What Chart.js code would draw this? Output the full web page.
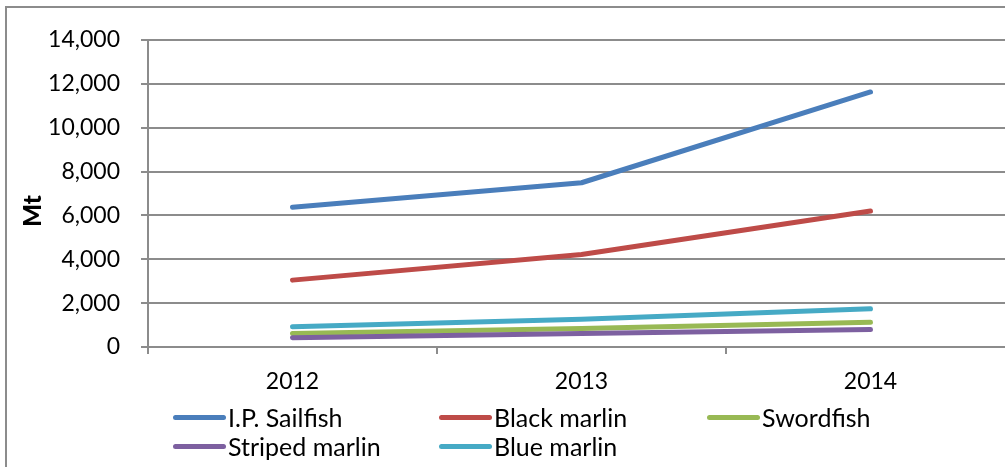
<!DOCTYPE html>
<html lang="en">

<head>
    <meta charset="UTF-8">
    <title>Billfish catch</title>
    <script src="https://cdn.jsdelivr.net/npm/chart.js"></script>
    <style>
        body { margin: 0; overflow: hidden; background: #fff; font-family: Lato, sans-serif; }
        #frame { position: absolute; left: 5px; top: 6px; width: 1100px; height: 600px; border-left: 2px solid #8c8c8c; border-top: 2px solid #8c8c8c; }
        #wrap { position: absolute; left: 0; top: 0; width: 1030px; height: 467px; }
        #legend { position: absolute; left: 173px; top: 403px; display: grid; grid-template-columns: 266px 268px 200px; row-gap: 1px; }
        .item { display: flex; align-items: center; height: 28px; font-size: 25px; color: #000; white-space: nowrap; }
        .swatch { width: 53px; height: 5px; border-radius: 3px; margin-right: 2px; }
    </style>
</head>

<body>
    <div id="frame"></div>
    <div id="wrap"><canvas id="fishChart"></canvas></div>
    <div id="legend"></div>

    <script>
        // values (Mt)
        const years = ['2012', '2013', '2014'];
        const sailfish = [6370, 7490, 11630];
        const blackMarlin = [3050, 4220, 6200];
        const swordfish = [610, 840, 1130];
        const stripedMarlin = [420, 610, 800];
        const blueMarlin = [920, 1260, 1740];

        const seriesNames = ['I.P. Sailfish', 'Black marlin', 'Swordfish', 'Striped marlin', 'Blue marlin'];
        const seriesColors = ['#4a7ebb', '#be4b48', '#98b954', '#7d60a0', '#46aac5'];
        const seriesData = [sailfish, blackMarlin, swordfish, stripedMarlin, blueMarlin];

        const gridColor = '#8c8c8c';
        const font = { family: 'Lato', size: 23 };

        // draw lower series first so the order on top matches the picture
        const drawOrder = [4, 3, 2, 1, 0];

        const datasets = seriesNames.map((name, i) => ({
            label: name,
            data: seriesData[i],
            borderColor: seriesColors[i],
            backgroundColor: seriesColors[i],
            borderWidth: 5,
            borderCapStyle: 'round',
            borderJoinStyle: 'round',
            pointRadius: 0,
            tension: 0,
            order: drawOrder[i]
        }));

        // axis title sits a bit below the middle of the plot, as in the original
        const axisTitle = {
            id: 'axisTitle',
            afterDraw(chart) {
                const ctx = chart.ctx;
                ctx.save();
                ctx.translate(33, 211);
                ctx.rotate(-Math.PI / 2);
                ctx.font = '900 24px Lato';
                ctx.fillStyle = '#000';
                ctx.textAlign = 'center';
                ctx.textBaseline = 'middle';
                ctx.fillText('Mt', 0, 0);
                ctx.restore();
            }
        };

        const ctx = document.getElementById('fishChart').getContext('2d');
        const chart = new Chart(ctx, {
            type: 'line',
            data: { labels: years, datasets: datasets },
            options: {
                responsive: true,
                maintainAspectRatio: false,
                animation: false,
                layout: { padding: { left: 6, top: 40, right: 15, bottom: 70 } },
                plugins: {
                    legend: { display: false },
                    tooltip: { enabled: false }
                },
                scales: {
                    x: {
                        offset: true,
                        grid: { drawOnChartArea: false, color: gridColor, lineWidth: 2, tickLength: 7, offset: true },
                        border: { color: gridColor, width: 2 },
                        ticks: { font: font, color: '#000', padding: 14, maxRotation: 0 },
                        afterFit: scale => { scale.height = 50; }
                    },
                    y: {
                        min: 0,
                        max: 14000,
                        grid: { color: gridColor, lineWidth: 2, tickLength: 7 },
                        border: { color: gridColor, width: 2 },
                        ticks: {
                            stepSize: 2000,
                            font: font,
                            color: '#000',
                            padding: 21,
                            callback: v => v.toLocaleString('en-US')
                        },
                        afterFit: scale => { scale.width = 142; }
                    }
                }
            },
            plugins: [axisTitle]
        });

        // legend laid out as a grid, built from the chart's datasets
        const legendBox = document.getElementById('legend');
        chart.data.datasets.forEach(ds => {
            const item = document.createElement('div');
            item.className = 'item';
            item.innerHTML = `<span class="swatch" style="background:${ds.borderColor}"></span>${ds.label}`;
            legendBox.appendChild(item);
        });
    </script>
</body>

</html>
